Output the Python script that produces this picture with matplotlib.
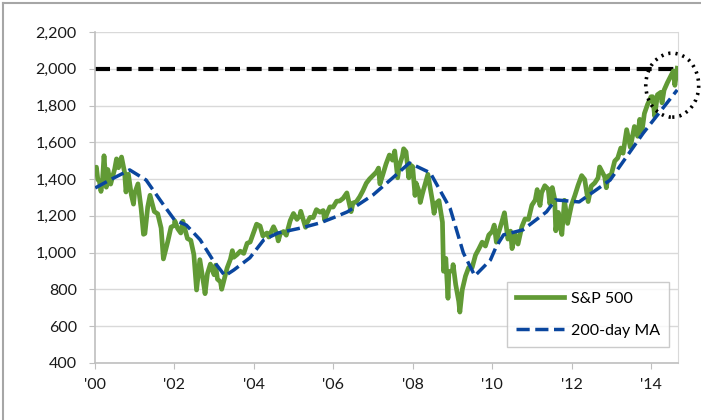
import numpy as np
import matplotlib.pyplot as plt
import matplotlib.dates as mdates
from matplotlib.patches import Ellipse
from matplotlib.lines import Line2D
from matplotlib.ticker import FuncFormatter

# S&P 500 closes (with the main intra-period swings)
spx_dates = [
    "2000-01-03", "2000-01-14", "2000-01-27", "2000-02-11", "2000-02-25", "2000-03-10", "2000-03-24",
    "2000-04-14", "2000-04-28", "2000-05-24", "2000-06-30", "2000-07-17", "2000-08-04", "2000-09-01",
    "2000-09-29", "2000-10-12", "2000-11-03", "2000-11-30", "2000-12-20", "2000-12-29",
    "2001-01-30", "2001-02-28", "2001-03-22", "2001-04-04", "2001-04-30", "2001-05-21", "2001-06-29",
    "2001-07-31", "2001-08-31", "2001-09-21", "2001-10-31", "2001-11-30", "2001-12-31",
    "2002-01-04", "2002-01-31", "2002-02-28", "2002-03-19", "2002-04-30", "2002-05-31", "2002-06-28",
    "2002-07-23", "2002-08-22", "2002-09-30", "2002-10-09", "2002-10-31", "2002-11-27", "2002-12-31",
    "2003-01-14", "2003-01-31", "2003-02-28", "2003-03-11", "2003-03-31", "2003-04-30", "2003-05-30",
    "2003-06-17", "2003-06-30", "2003-07-31", "2003-08-29", "2003-09-30", "2003-10-31", "2003-11-28",
    "2003-12-31",
    "2004-01-26", "2004-02-27", "2004-03-24", "2004-04-30", "2004-05-17", "2004-06-30", "2004-07-30",
    "2004-08-12", "2004-08-31", "2004-09-30", "2004-10-25", "2004-11-30", "2004-12-30",
    "2005-01-31", "2005-02-28", "2005-03-07", "2005-04-20", "2005-04-29", "2005-05-31", "2005-06-30",
    "2005-07-29", "2005-08-31", "2005-09-30", "2005-10-13", "2005-10-31", "2005-11-30", "2005-12-30",
    "2006-01-31", "2006-02-28", "2006-03-31", "2006-05-05", "2006-06-13", "2006-06-30", "2006-07-31",
    "2006-08-31", "2006-09-29", "2006-10-31", "2006-11-30", "2006-12-29",
    "2007-01-31", "2007-02-20", "2007-03-05", "2007-03-30", "2007-04-30", "2007-05-31", "2007-06-29",
    "2007-07-19", "2007-08-15", "2007-08-31", "2007-09-28", "2007-10-09", "2007-10-31", "2007-11-26",
    "2007-11-30", "2007-12-31",
    "2008-01-22", "2008-01-31", "2008-02-29", "2008-03-10", "2008-03-31", "2008-04-30", "2008-05-19",
    "2008-06-30", "2008-07-15", "2008-07-31", "2008-08-29", "2008-09-30", "2008-10-10", "2008-10-31",
    "2008-11-20", "2008-11-28", "2008-12-31",
    "2009-01-06", "2009-01-30", "2009-02-27", "2009-03-09", "2009-03-31", "2009-04-30", "2009-05-29",
    "2009-06-30", "2009-07-31", "2009-08-31", "2009-09-30", "2009-10-30", "2009-11-30", "2009-12-31",
    "2010-01-19", "2010-02-08", "2010-02-26", "2010-03-31", "2010-04-23", "2010-05-25", "2010-06-18",
    "2010-07-02", "2010-07-30", "2010-08-26", "2010-09-30", "2010-10-29", "2010-11-30", "2010-12-31",
    "2011-01-31", "2011-02-18", "2011-03-16", "2011-03-31", "2011-04-29", "2011-05-31", "2011-06-15",
    "2011-07-07", "2011-07-29", "2011-08-08", "2011-08-31", "2011-09-22", "2011-10-03", "2011-10-27",
    "2011-11-25", "2011-12-30",
    "2012-01-31", "2012-02-29", "2012-04-02", "2012-04-30", "2012-06-01", "2012-06-29", "2012-07-31",
    "2012-08-31", "2012-09-14", "2012-10-31", "2012-11-15", "2012-11-30", "2012-12-31",
    "2013-01-31", "2013-02-28", "2013-03-28", "2013-04-18", "2013-05-21", "2013-06-24", "2013-07-31",
    "2013-08-30", "2013-09-18", "2013-10-08", "2013-10-31", "2013-11-29", "2013-12-31",
    "2014-01-15", "2014-02-03", "2014-02-28", "2014-03-31", "2014-04-11", "2014-04-30", "2014-05-30",
    "2014-06-30", "2014-07-24", "2014-08-07", "2014-08-29",
]
spx_values = [
    1455, 1465, 1398, 1387, 1333, 1395, 1527,
    1356, 1452, 1373, 1455, 1510, 1462, 1520,
    1437, 1330, 1427, 1315, 1264, 1320,
    1374, 1240, 1100, 1104, 1249, 1312, 1224,
    1211, 1134, 966, 1060, 1139, 1148,
    1173, 1130, 1107, 1171, 1077, 1067, 990,
    797, 962, 815, 777, 886, 938, 880,
    932, 856, 841, 801, 848, 917, 964,
    1011, 975, 990, 1008, 996, 1051, 1058,
    1112,
    1155, 1145, 1091, 1107, 1085, 1141, 1102,
    1064, 1104, 1115, 1095, 1174, 1213,
    1181, 1204, 1225, 1138, 1157, 1192, 1191,
    1234, 1220, 1229, 1177, 1207, 1249, 1248,
    1280, 1281, 1295, 1325, 1223, 1270, 1277,
    1304, 1336, 1378, 1401, 1418,
    1438, 1460, 1374, 1421, 1482, 1531, 1503,
    1553, 1407, 1474, 1527, 1565, 1549, 1407,
    1481, 1468,
    1311, 1379, 1331, 1273, 1323, 1386, 1426,
    1280, 1214, 1267, 1283, 1166, 899, 969,
    752, 896, 903,
    935, 826, 735, 677, 798, 873, 919,
    919, 987, 1021, 1057, 1036, 1096, 1115,
    1150, 1057, 1104, 1169, 1217, 1074, 1117,
    1022, 1102, 1047, 1141, 1183, 1181, 1258,
    1286, 1343, 1257, 1326, 1364, 1345, 1266,
    1354, 1292, 1119, 1219, 1129, 1099, 1285,
    1159, 1258,
    1312, 1366, 1419, 1398, 1278, 1362, 1379,
    1407, 1466, 1412, 1353, 1416, 1426,
    1498, 1515, 1569, 1541, 1669, 1573, 1686,
    1633, 1725, 1656, 1757, 1806, 1848,
    1848, 1741, 1859, 1872, 1815, 1884, 1924,
    1960, 1988, 1910, 2003,
]

# 200-day moving average
ma_dates = [
    "2000-01-03", "2000-06-01", "2000-11-15", "2001-04-15", "2001-09-10", "2002-01-01",
    "2002-04-20", "2002-08-25", "2002-12-20", "2003-04-10", "2003-07-01", "2003-11-25",
    "2004-04-01", "2004-08-10", "2005-03-15", "2005-09-01", "2006-01-01", "2006-05-10",
    "2007-01-01", "2007-07-01", "2007-12-01", "2008-06-10", "2008-12-10", "2009-04-10",
    "2009-07-25", "2009-12-15", "2010-02-05", "2010-04-15", "2010-10-10", "2011-05-15",
    "2011-08-05", "2012-03-10", "2012-12-20", "2013-10-20", "2014-08-29",
]
ma_values = [
    1352, 1400, 1450, 1395, 1270, 1178,
    1150, 1070, 960, 874, 906, 972,
    1070, 1107, 1135, 1162, 1190, 1222,
    1314, 1407, 1488, 1434, 1240, 999,
    874, 960, 1031, 1097, 1124, 1222,
    1287, 1276, 1395, 1650, 1885,
]

threshold = 2000
y_ticks = [400, 600, 800, 1000, 1200, 1400, 1600, 1800, 2000, 2200]
x_tick_years = [2000, 2002, 2004, 2006, 2008, 2010, 2012, 2014]

plt.rcParams['font.family'] = ['Lato', 'DejaVu Sans']

spx_d = np.array(spx_dates, dtype='datetime64[D]')
ma_d = np.array(ma_dates, dtype='datetime64[D]')

fig = plt.figure(figsize=(7.01, 4.20), dpi=100)
ax = fig.add_axes([95 / 701, 57 / 420, 583 / 701, 331 / 420])

ax.grid(axis='y', color='#D9D9D9', lw=1)
ax.set_axisbelow(True)

ax.plot(spx_d, spx_values, color='#619A35', lw=3.4, solid_joinstyle='round',
        label='S&P 500', zorder=3)
ax.plot(ma_d, ma_values, color='#0A469E', lw=2.5, dashes=(3.8, 1.6),
        label='200-day MA', zorder=4)

ax.axhline(threshold, color='black', lw=3, dashes=(3.6, 1.6), zorder=2)

# dotted circle around latest value
last_x = mdates.date2num(spx_d[-1])
circ = Ellipse((last_x - 46, spx_values[-1] - 92), 487, 348, fill=False,
               edgecolor='black', lw=2.6, linestyle=(0, (0.6, 1.4)),
               clip_on=False, zorder=5)
ax.add_patch(circ)

ax.set_ylim(400, 2200)
ax.set_yticks(y_ticks)
ax.yaxis.set_major_formatter(FuncFormatter(lambda v, p: f"{int(v):,}"))
ax.set_xlim(np.datetime64('2000-01-01'), np.datetime64('2014-09-05'))
ax.set_xticks([np.datetime64(f"{y}-01-01") for y in x_tick_years])
ax.set_xticklabels([f"'{str(y)[2:]}" for y in x_tick_years])

ax.spines['top'].set_visible(False)
ax.spines['right'].set_color('#D9D9D9')
ax.spines['left'].set_color('#BFBFBF')
ax.spines['bottom'].set_color('#BFBFBF')
ax.spines['left'].set_linewidth(1.2)
ax.spines['bottom'].set_linewidth(1.2)
ax.tick_params(axis='y', length=4, color='#BFBFBF', pad=9, labelsize=11.5, labelcolor='#1a1a1a')
ax.tick_params(axis='x', length=4, color='#BFBFBF', pad=7, labelsize=11.5, labelcolor='#1a1a1a')

leg = ax.legend(loc='lower right', bbox_to_anchor=(0.985, 0.048), borderaxespad=0,
                fontsize=11.5, frameon=True, fancybox=False, edgecolor='#BFBFBF',
                handlelength=3.0, labelspacing=1.1, borderpad=0.6, handletextpad=0.4)
leg.get_frame().set_linewidth(1)

# outer frame
fig.add_artist(Line2D([3 / 701, 3 / 701], [0, 1 - 3 / 420], color='#A6A6A6', lw=1.5))
fig.add_artist(Line2D([3 / 701, 1], [1 - 3 / 420, 1 - 3 / 420], color='#A6A6A6', lw=1.5))

fig.savefig('out.png', dpi=100)
